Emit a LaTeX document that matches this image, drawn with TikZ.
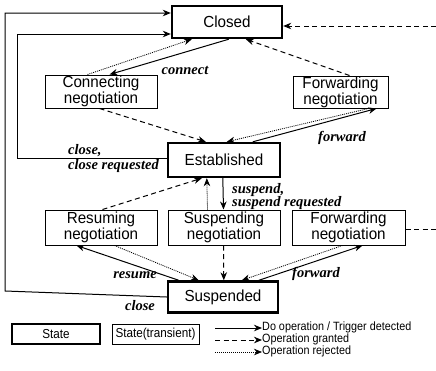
\documentclass[tikz,border=0pt]{standalone}
\usepackage{fontspec}
\setmainfont{Liberation Sans}[FakeStretch=0.95]
\newfontfamily\labfont{Liberation Serif}
\newfontfamily\legfont{Liberation Sans}[FakeStretch=0.9]
\usetikzlibrary{arrows.meta,calc}
\begin{document}
\begin{tikzpicture}[x=1pt,y=-1pt,
  >={Stealth[length=8pt,width=6.5pt,inset=2.5pt]},
  stbox/.style={draw,line width=2.4pt,inner sep=0pt,align=center,
    font=\fontsize{16}{14}\selectfont},
  trbox/.style={draw,line width=1pt,inner sep=0pt,align=center,
    font=\fontsize{16}{14}\selectfont},
  solidarr/.style={->,line width=1pt},
  dasharr/.style={->,line width=1pt,dash pattern=on 5pt off 3.5pt},
  dotarr/.style={->,line width=0.8pt,dash pattern=on 1pt off 1pt},
  lab/.style={font=\labfont\bfseries\itshape\fontsize{14.5}{14}\selectfont,inner sep=0pt},
  legtext/.style={font=\legfont\fontsize{12}{12}\selectfont,inner sep=0pt,anchor=west}
]
\useasboundingbox (0,0) rectangle (436,370);

% states
\node[stbox,minimum width=110,minimum height=32] (Closed) at (227,22) {Closed};
\node[trbox,minimum width=112,minimum height=33] (ConnN) at (101,91.5) {Connecting\\negotiation};
\node[trbox,minimum width=95,minimum height=32] (FwdTop) at (340.5,92) {Forwarding\\negotiation};
\node[stbox,minimum width=112,minimum height=34] (Est) at (224,160) {Established};
\node[trbox,minimum width=112,minimum height=35] (ResN) at (101,227.5) {Resuming\\negotiation};
\node[trbox,minimum width=112,minimum height=35] (SuspN) at (224,227.5) {Suspending\\negotiation};
\node[trbox,minimum width=113,minimum height=35] (FwdMid) at (348.5,227.5) {Forwarding\\negotiation};
\node[stbox,minimum width=110,minimum height=31] (Susp) at (223,297) {Suspended};

% free-end coordinates
\coordinate (o1) at (5,291);
\coordinate (o2) at (5,13);
\coordinate (i1) at (17,158);
\coordinate (i2) at (17,34);
\coordinate (r1) at (436,26);
\coordinate (r2) at (436,229);

% left loops
\draw[solidarr] (Susp.west) -- (o1) -- (o2) -- (Closed.west |- o2);
\draw[solidarr] (Est.west |- i1) -- (i1) -- (i2) -- (Closed.west |- i2);
\node[lab,anchor=west] (lclose1) at (68,151) {close,};
\node[lab,anchor=west] (lclose2) at (68,166) {close requested};

% right dashed loop
\draw[dasharr] (r1) -- (Closed.east |- r1);
\draw[line width=1pt,dash pattern=on 5pt off 3.5pt] (FwdMid.east |- r2) -- (r2);

% Closed <-> Connecting
\draw[solidarr] ($(Closed.south west)+(58,0)$) -- ($(ConnN.north west)+(65,0)$);
\draw[dotarr] ($(ConnN.north west)+(43,0)$) -- ($(Closed.south west)+(21,0)$);
\node[lab] (lconnect) at (185,70) {connect};
\draw[dasharr] ($(FwdTop.north west)+(57,0)$) -- ($(Closed.south west)+(75,0)$);

% to Established
\draw[dasharr] ($(ConnN.south west)+(55,0)$) -- ($(Est.north west)+(39,0)$);
\draw[dotarr] ($(FwdTop.south west)+(76,0)$) -- ($(Est.north west)+(60,0)$);
\draw[solidarr] ($(Est.north west)+(86,0)$) -- ($(FwdTop.south west)+(84,0)$);
\node[lab] (lfwd1) at (342,138) {forward};

% Established <-> Suspending / Resuming
\draw[solidarr] ($(Est.south west)+(56,0)$) -- ($(SuspN.north west)+(56,0)$);
\draw[dotarr] ($(SuspN.north west)+(40,0)$) -- ($(Est.south west)+(40,0)$);
\draw[dasharr] ($(ResN.north west)+(58,0)$) -- ($(Est.south west)+(35,0)$);
\node[lab,anchor=west] (lsusp1) at (232,190) {suspend,};
\node[lab,anchor=west] (lsusp2) at (232,203) {suspend requested};

% to Suspended
\draw[solidarr] ($(Susp.north west)+(12,0)$) -- ($(ResN.south west)+(32,0)$);
\draw[dotarr] ($(ResN.south west)+(70,0)$) -- ($(Susp.north west)+(32,0)$);
\node[lab] (lresume) at (135,275) {resume};
\draw[dasharr] ($(SuspN.south west)+(56,0)$) -- ($(Susp.north west)+(57,0)$);
\draw[dotarr] ($(FwdMid.south west)+(51,0)$) -- ($(Susp.north west)+(75,0)$);
\draw[solidarr] ($(Susp.north west)+(92,0)$) -- ($(FwdMid.south west)+(71,0)$);
\node[lab] (lfwd2) at (316,274) {forward};
\node[lab] (lclose3) at (140,306) {close};

% legend
\node[stbox,minimum width=88,minimum height=20,font=\legfont\fontsize{13}{13}\selectfont] (legS) at (56,334) {State};
\node[trbox,minimum width=87,minimum height=20,font=\legfont\fontsize{13}{13}\selectfont] (legT) at (155.5,334) {State(transient)};
\coordinate (a1) at (215,328);
\coordinate (a2) at (215,340);
\coordinate (a3) at (215,352);
\node[legtext] (t1) at (262,327.5) {Do operation / Trigger detected};
\node[legtext] (t2) at (262,339.5) {Operation granted};
\node[legtext] (t3) at (262,351.5) {Operation rejected};
\draw[solidarr] (a1) -- (t1.west |- a1);
\draw[dasharr] (a2) -- (t2.west |- a2);
\draw[dotarr] (a3) -- (t3.west |- a3);
\end{tikzpicture}
\end{document}
